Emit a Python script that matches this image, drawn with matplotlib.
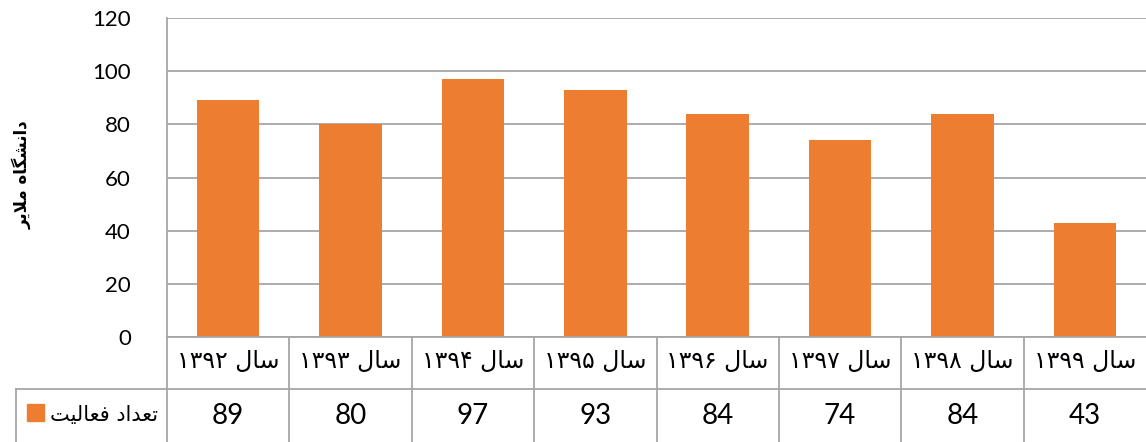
import matplotlib
matplotlib.use("Agg")
import matplotlib.pyplot as plt
import numpy as np
from matplotlib.patches import Rectangle
from matplotlib.lines import Line2D

years = [1392, 1393, 1394, 1395, 1396, 1397, 1398, 1399]
counts = [89, 80, 97, 93, 84, 74, 84, 43]
series_name = "تعداد فعالیت"
y_title = "دانشگاه ملایر"
yticks = [0, 20, 40, 60, 80, 100, 120]

BAR_COLOR = "#ED7D31"
GRID_COLOR = "#A6A6A6"
TEXT_FONT = ["Lato", "DejaVu Sans"]

# contextual forms: isolated, final, initial, medial (None => right-joining only)
FORMS = {
    "ا": ("\uFE8D", "\uFE8E", None, None),
    "د": ("\uFEA9", "\uFEAA", None, None),
    "ر": ("\uFEAD", "\uFEAE", None, None),
    "ل": ("\uFEDD", "\uFEDE", "\uFEDF", "\uFEE0"),
    "س": ("\uFEB1", "\uFEB2", "\uFEB3", "\uFEB4"),
    "ش": ("\uFEB5", "\uFEB6", "\uFEB7", "\uFEB8"),
    "ت": ("\uFE95", "\uFE96", "\uFE97", "\uFE98"),
    "ع": ("\uFEC9", "\uFECA", "\uFECB", "\uFECC"),
    "ف": ("\uFED1", "\uFED2", "\uFED3", "\uFED4"),
    "ی": ("\uFBFC", "\uFBFD", "\uFBFE", "\uFBFF"),
    "ه": ("\uFEE9", "\uFEEA", "\uFEEB", "\uFEEC"),
    "ن": ("\uFEE5", "\uFEE6", "\uFEE7", "\uFEE8"),
    "گ": ("\uFB92", "\uFB93", "\uFB94", "\uFB95"),
    "م": ("\uFEE1", "\uFEE2", "\uFEE3", "\uFEE4"),
}
LAM_ALEF = ("\uFEFB", "\uFEFC")


def dual(c):
    return c in FORMS and FORMS[c][2] is not None


def shape_word(word):
    out = []
    i = 0
    while i < len(word):
        c = word[i]
        prev_joins = i > 0 and dual(word[i - 1])
        if c == "ل" and i + 1 < len(word) and word[i + 1] == "ا":
            out.append(LAM_ALEF[1] if prev_joins else LAM_ALEF[0])
            i += 2
            continue
        nxt = word[i + 1] if i + 1 < len(word) else None
        next_joins = dual(c) and nxt in FORMS
        iso, fin, ini, med = FORMS[c]
        if prev_joins and next_joins:
            out.append(med)
        elif prev_joins:
            out.append(fin)
        elif next_joins:
            out.append(ini)
        else:
            out.append(iso)
        i += 1
    return "".join(out)


def rtl(text):
    # shape each word, then lay the words out right to left
    words = [shape_word(w)[::-1] for w in text.split(" ")]
    return " ".join(words[::-1])


def fa_digits(n):
    return "".join(chr(0x06F0 + int(d)) for d in str(n))


labels = [fa_digits(y) + " " + rtl("سال") for y in years]

fig = plt.figure(figsize=(11.46, 4.42), dpi=100)
W, H = 1146, 442
left, right, top, bottom = 167 / W, 1.0, 1 - 18 / H, 1 - 337 / H
ax = fig.add_axes([left, bottom, right - left, top - bottom])

x = np.arange(len(counts))
ax.bar(x, counts, width=0.51, color=BAR_COLOR, zorder=3)
ax.set_xlim(-0.5, len(counts) - 0.5)
ax.set_ylim(0, 120)
ax.set_yticks(yticks)
ax.set_yticklabels([str(t) for t in yticks], fontsize=16, family=TEXT_FONT)
ax.tick_params(axis="y", length=0, pad=26)
ax.set_xticks([])
ax.yaxis.grid(True, color=GRID_COLOR, linewidth=1.3, zorder=0)
for s in ["top", "right", "bottom"]:
    ax.spines[s].set_visible(False)
ax.spines["left"].set_color(GRID_COLOR)
ax.spines["left"].set_linewidth(1.3)

fig.text(22 / W, (1 - 175 / H), rtl(y_title), rotation=90, ha="center",
         va="center", fontsize=12, fontweight="bold", family=["DejaVu Sans"])

# data table below the plot
row1_top = 1 - 337 / H
row_mid = 1 - 389 / H
row_bot = 0.0
cell_w = (right - left) / len(counts)


def fline(xs, ys):
    fig.add_artist(Line2D(xs, ys, color=GRID_COLOR, linewidth=1.3))


fline([left, right], [row1_top, row1_top])
fline([16 / W, right], [row_mid, row_mid])
fline([16 / W, 16 / W], [row_mid, row_bot])
for i in range(len(counts)):
    xb = left + i * cell_w
    fline([xb, xb], [row1_top, row_bot])
    xc = xb + cell_w / 2
    fig.text(xc, (row1_top + row_mid) / 2 + 0.005, labels[i], ha="center",
             va="center", fontsize=17, family=["DejaVu Sans"])
    fig.text(xc, (row_mid + row_bot) / 2, str(counts[i]), ha="center",
             va="center", fontsize=20, family=TEXT_FONT)

fig.add_artist(Rectangle((27 / W, 1 - 421 / H), 17 / W, 17 / H,
                         transform=fig.transFigure, color=BAR_COLOR))
fig.text(158 / W, (row_mid + row_bot) / 2, rtl(series_name), ha="right",
         va="center", fontsize=15, family=["DejaVu Sans"])

fig.savefig("out.png", dpi=100)
